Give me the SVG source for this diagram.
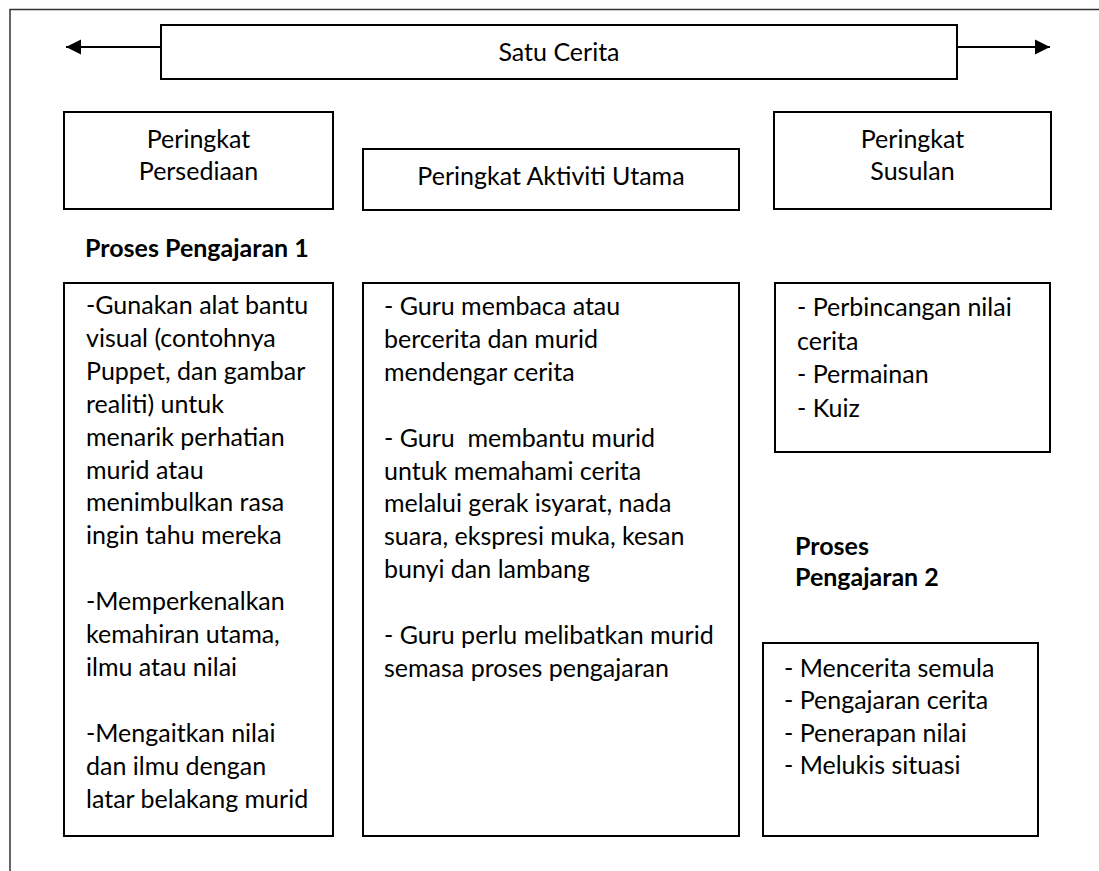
<svg xmlns="http://www.w3.org/2000/svg" width="1099" height="871" viewBox="0 0 1099 871">
  <style>
    .box { fill: #fff; stroke: #000; stroke-width: 2; }
    .frame { fill: none; stroke: #333; stroke-width: 1.5; }
    .t { font-family: Lato, "Liberation Sans", sans-serif; font-size: 25px; fill: #000; }
    .c { text-anchor: middle; }
    .b { font-weight: bold; }
    .conn { stroke: #000; stroke-width: 2; fill: none; }
  </style>
  <defs>
    <marker id="ah" markerUnits="userSpaceOnUse" markerWidth="16" markerHeight="16" refX="15" refY="8" orient="auto">
      <path d="M0,0.5 L15,8 L0,15.5 Z" fill="#000"/>
    </marker>
  </defs>
  <rect width="1099" height="871" fill="#fff"/>
  <path class="frame" d="M10,871 L10,9.5 L1099,9.5"/>

  <g id="connectors">
    <line class="conn" x1="161" y1="47" x2="66" y2="47" marker-end="url(#ah)"/>
    <line class="conn" x1="957" y1="47" x2="1050" y2="47" marker-end="url(#ah)"/>
  </g>

  <g id="satu-cerita">
    <rect class="box" x="161" y="25" width="796" height="54"/>
    <text class="t c" x="559" y="61">Satu Cerita</text>
  </g>

  <g id="peringkat-persediaan">
    <rect class="box" x="64" y="112" width="269" height="97"/>
    <text class="t c" x="198.5" y="148">Peringkat</text>
    <text class="t c" x="198.5" y="180">Persediaan</text>
  </g>

  <g id="peringkat-aktiviti-utama">
    <rect class="box" x="363" y="149" width="376" height="61"/>
    <text class="t c" x="551" y="185">Peringkat Aktiviti Utama</text>
  </g>

  <g id="peringkat-susulan">
    <rect class="box" x="774" y="112" width="277" height="97"/>
    <text class="t c" x="912.5" y="148">Peringkat</text>
    <text class="t c" x="912.5" y="180">Susulan</text>
  </g>

  <g id="label-proses-1">
    <text class="t b" x="85" y="257">Proses Pengajaran 1</text>
  </g>

  <g id="persediaan-content">
    <rect class="box" x="64" y="283" width="269" height="553"/>
    <text class="t" x="86" y="314">-Gunakan alat bantu</text>
    <text class="t" x="86" y="346.9">visual (contohnya</text>
    <text class="t" x="86" y="379.8">Puppet, dan gambar</text>
    <text class="t" x="86" y="412.7">realiti) untuk</text>
    <text class="t" x="86" y="445.6">menarik perhatian</text>
    <text class="t" x="86" y="478.5">murid atau</text>
    <text class="t" x="86" y="511.4">menimbulkan rasa</text>
    <text class="t" x="86" y="544.3">ingin tahu mereka</text>
    <text class="t" x="86" y="610.1">-Memperkenalkan</text>
    <text class="t" x="86" y="643">kemahiran utama,</text>
    <text class="t" x="86" y="675.9">ilmu atau nilai</text>
    <text class="t" x="86" y="741.7">-Mengaitkan nilai</text>
    <text class="t" x="86" y="774.6">dan ilmu dengan</text>
    <text class="t" x="86" y="807.5">latar belakang murid</text>
  </g>

  <g id="aktiviti-content">
    <rect class="box" x="363" y="283" width="376" height="553"/>
    <text class="t" x="384" y="315">- Guru membaca atau</text>
    <text class="t" x="384" y="347.9">bercerita dan murid</text>
    <text class="t" x="384" y="380.8">mendengar cerita</text>
    <text class="t" x="384" y="446.6" xml:space="preserve">- Guru  membantu murid</text>
    <text class="t" x="384" y="479.5">untuk memahami cerita</text>
    <text class="t" x="384" y="512.4">melalui gerak isyarat, nada</text>
    <text class="t" x="384" y="545.3">suara, ekspresi muka, kesan</text>
    <text class="t" x="384" y="578.2">bunyi dan lambang</text>
    <text class="t" x="384" y="644">- Guru perlu melibatkan murid</text>
    <text class="t" x="384" y="676.9">semasa proses pengajaran</text>
  </g>

  <g id="susulan-content">
    <rect class="box" x="775" y="283" width="275" height="169"/>
    <text class="t" x="797" y="316">- Perbincangan nilai</text>
    <text class="t" x="797" y="349.5">cerita</text>
    <text class="t" x="797" y="383">- Permainan</text>
    <text class="t" x="797" y="416.5">- Kuiz</text>
  </g>

  <g id="label-proses-2">
    <text class="t b" x="795" y="555">Proses</text>
    <text class="t b" x="795" y="586">Pengajaran 2</text>
  </g>

  <g id="proses-2-content">
    <rect class="box" x="763" y="643" width="275" height="193"/>
    <text class="t" x="784" y="677">- Mencerita semula</text>
    <text class="t" x="784" y="709">- Pengajaran cerita</text>
    <text class="t" x="784" y="741.5">- Penerapan nilai</text>
    <text class="t" x="784" y="773.5">- Melukis situasi</text>
  </g>
</svg>
